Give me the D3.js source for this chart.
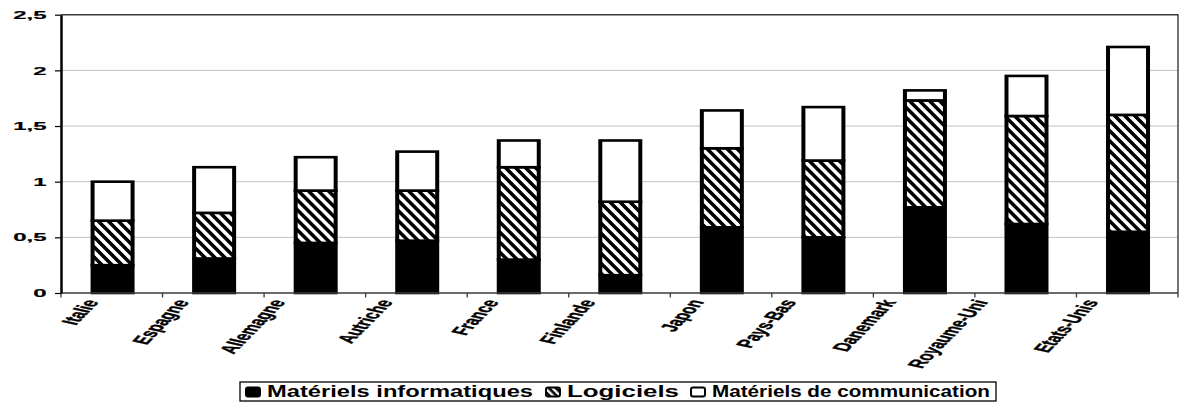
<!DOCTYPE html>
<html>
<head>
<meta charset="utf-8">
<script src="https://cdn.jsdelivr.net/npm/d3@7"></script>
<style>
  body { margin: 0; background: #fff; }
  svg { display: block; }
  text { font-family: "Liberation Sans", Arial, sans-serif; font-weight: bold; fill: #000; }
</style>
</head>
<body>
<svg id="chart" width="1185" height="403"></svg>
<script>
// Investment in ICT, share of GDP, by component
const categories = ["Italie", "Espagne", "Allemagne", "Autriche", "France", "Finlande",
                    "Japon", "Pays-Bas", "Danemark", "Royaume-Uni", "Etats-Unis"];
const materielsInformatiques = [0.25, 0.31, 0.45, 0.47, 0.30, 0.16, 0.59, 0.50, 0.77, 0.62, 0.55];
const logiciels              = [0.40, 0.41, 0.47, 0.45, 0.83, 0.66, 0.71, 0.69, 0.96, 0.97, 1.05];
const materielsCommunication = [0.35, 0.41, 0.30, 0.35, 0.24, 0.55, 0.34, 0.48, 0.09, 0.36, 0.61];
const seriesNames = ["Matériels informatiques", "Logiciels", "Matériels de communication"];
const yTickValues = [0, 0.5, 1, 1.5, 2, 2.5];

const plot = { left: 61, right: 1178, top: 14.7, bottom: 293 };
const svg = d3.select("#chart");
const fmt = d3.formatLocale({ decimal: ",", thousands: " ", grouping: [3], currency: ["", "€"] }).format(".1~f");

const x = d3.scaleBand().domain(categories).range([plot.left, plot.right]).padding(0);
const y = d3.scaleLinear().domain([0, 2.5]).range([plot.bottom, plot.top]);

// Bars live in a vertically compressed frame so that horizontal borders are thinner than vertical ones
const kBar = 0.65;
const yBar = d3.scaleLinear().domain([0, 2.5]).range([plot.bottom / kBar, plot.top / kBar]);

// Hatch fills
const defs = svg.append("defs");
const hatch = defs.append("pattern").attr("id", "hatch")
  .attr("patternUnits", "userSpaceOnUse").attr("width", 10).attr("height", 8.4)
  .attr("patternTransform", "rotate(57)");
hatch.append("rect").attr("width", 10).attr("height", 8.4).attr("fill", "#fff");
hatch.append("rect").attr("width", 10).attr("height", 4.2).attr("fill", "#000");

const hatchSmall = defs.append("pattern").attr("id", "hatchSmall")
  .attr("patternUnits", "userSpaceOnUse").attr("width", 6).attr("height", 5)
  .attr("patternTransform", "rotate(45)");
hatchSmall.append("rect").attr("width", 6).attr("height", 5).attr("fill", "#fff");
hatchSmall.append("rect").attr("width", 6).attr("height", 2.6).attr("fill", "#000");

// Gridlines
svg.append("g").selectAll("line").data(yTickValues.filter(v => v > 0 && v < 2.5)).join("line")
  .attr("x1", plot.left).attr("x2", plot.right)
  .attr("y1", d => y(d)).attr("y2", d => y(d))
  .attr("stroke", "#c0c0c0").attr("stroke-width", 1);

// Plot frame (top and right)
svg.append("path")
  .attr("d", `M${plot.left},${y(2.5)}H${plot.right}V${plot.bottom}`)
  .attr("fill", "none").attr("stroke", "#3a3a3a").attr("stroke-width", 1.4);

// Stacked bars
const rows = categories.map((c, i) => ({
  cat: c, info: materielsInformatiques[i], logi: logiciels[i], comm: materielsCommunication[i]
}));
const keys = ["info", "logi", "comm"];
const fills = { info: "#000", logi: "url(#hatch)", comm: "#fff" };
const stacked = d3.stack().keys(keys)(rows);
const barW = 40;

const barG = svg.append("g").attr("transform", `scale(1,${kBar})`);
barG.selectAll("g").data(stacked).join("g")
  .attr("fill", d => fills[d.key])
  .selectAll("rect").data(d => d).join("rect")
  .attr("x", d => x(d.data.cat) + x.bandwidth() / 2 - barW / 2 + 0.8)
  .attr("y", d => yBar(d[1]))
  .attr("width", barW)
  .attr("height", d => yBar(d[0]) - yBar(d[1]))
  .attr("stroke", "#000").attr("stroke-width", 4);

// Bottom axis line and ticks at category boundaries
svg.append("line")
  .attr("x1", plot.left).attr("x2", plot.right)
  .attr("y1", plot.bottom).attr("y2", plot.bottom)
  .attr("stroke", "#3a3a3a").attr("stroke-width", 1.5);
const bounds = categories.map(c => x(c)).concat([plot.right]);
svg.append("g").selectAll("line").data(bounds).join("line")
  .attr("x1", d => d).attr("x2", d => d)
  .attr("y1", plot.bottom).attr("y2", plot.bottom + 4.5)
  .attr("stroke", "#3a3a3a").attr("stroke-width", 1.3);

// Category labels, slanted; longer labels sit a little further left of their bar
const xLabels = svg.append("g").selectAll("text").data(categories).join("text")
  .attr("text-anchor", "end")
  .attr("font-size", 24)
  .attr("stroke", "#000").attr("stroke-width", 0.6)
  .text(d => d);
xLabels.each(function (d) {
  const len = this.getComputedTextLength();
  const proj = len * 0.612 * 0.707;
  const ex = x(d) + x.bandwidth() / 2 + 1 - 0.57 * proj;
  d3.select(this).attr("transform", `translate(${ex},302) scale(1,0.48) rotate(-64.4)`);
});

// Left axis: line and ticks from d3, labels drawn beside them
const yAxis = d3.axisLeft(y).tickValues(yTickValues).tickFormat("").tickSize(6).tickSizeOuter(0);
const yG = svg.append("g").attr("transform", `translate(${plot.left},0)`).call(yAxis);
yG.select(".domain").attr("stroke", "#000").attr("stroke-width", 2.5);
yG.selectAll(".tick line").attr("stroke", "#000").attr("stroke-width", 1.2);

// Tick labels: wide bold digits (digit advance 0.556em, comma 0.278em at 24px)
const advance = s => [...s].reduce((w, ch) => w + (ch === "," ? 0.278 : 0.556), 0) * 24;
svg.append("g").selectAll("text").data(yTickValues).join("text")
  .attr("text-anchor", "end")
  .attr("font-size", 24)
  .attr("textLength", d => advance(fmt(d)))
  .attr("lengthAdjust", "spacingAndGlyphs")
  .attr("stroke", "#000").attr("stroke-width", 0.4)
  .attr("dy", "0.36em")
  .attr("transform", d => `translate(46.5,${y(d)}) scale(1,0.48)`)
  .text(d => fmt(d));

// Legend
const legend = svg.append("g");
legend.append("rect").attr("x", 240).attr("y", 382).attr("width", 756).attr("height", 19)
  .attr("fill", "#fff").attr("stroke", "#000").attr("stroke-width", 1.3);
const legendItems = [
  { name: seriesNames[0], sx: 245, tx: 267, len: 266, fill: "#000" },
  { name: seriesNames[1], sx: 545, tx: 567, len: 112, fill: "url(#hatchSmall)" },
  { name: seriesNames[2], sx: 690, tx: 712, len: 278, fill: "#fff" }
];
const li = legend.selectAll("g.item").data(legendItems).join("g").attr("class", "item");
li.append("rect")
  .attr("x", d => d.sx + 1).attr("y", 387.5).attr("width", 14).attr("height", 9).attr("rx", 2)
  .attr("fill", d => d.fill).attr("stroke", "#000").attr("stroke-width", 2);
li.append("text")
  .attr("font-size", 22.5)
  .attr("textLength", d => d.len).attr("lengthAdjust", "spacingAndGlyphs")
  .attr("transform", d => `translate(${d.tx},397.3) scale(1,0.72)`)
  .text(d => d.name);
</script>
</body>
</html>
